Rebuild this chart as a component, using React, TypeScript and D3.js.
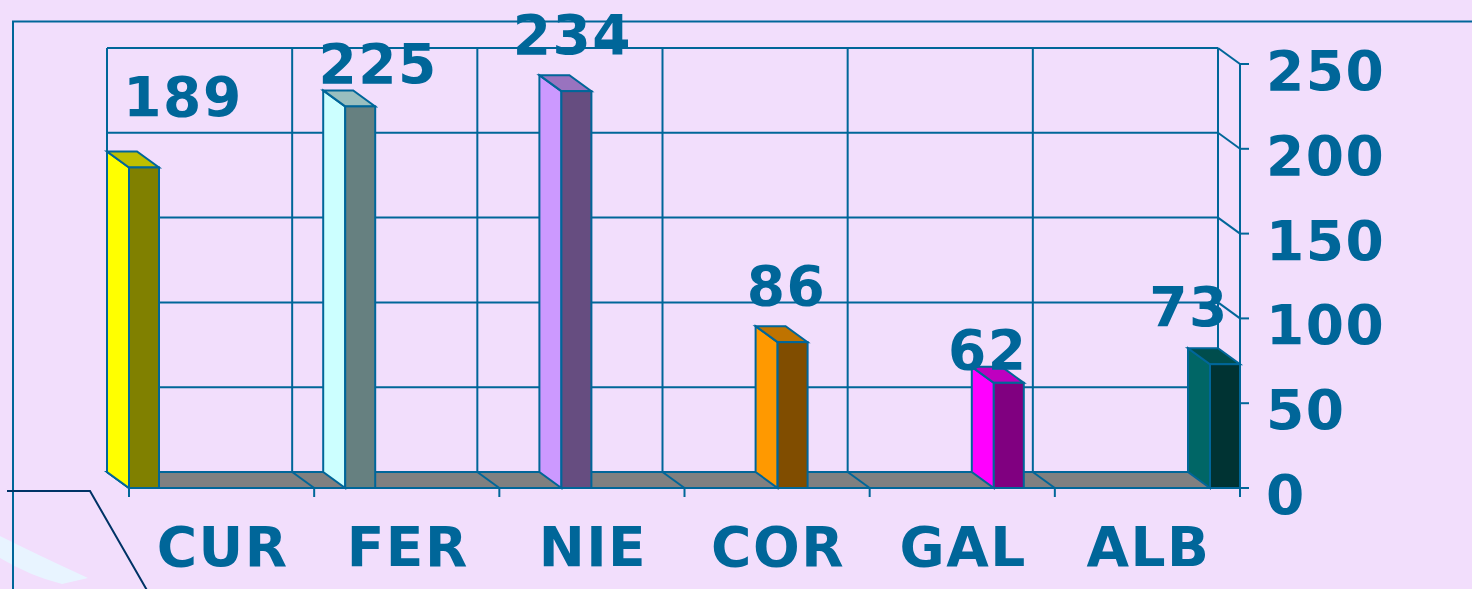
import { useRef, useEffect } from 'react';
import * as d3 from 'd3';

// chart data
const categories = ['CUR', 'FER', 'NIE', 'COR', 'GAL', 'ALB'];
const values = [189, 225, 234, 86, 62, 73];
const yTicks = [0, 50, 100, 150, 200, 250];
const barColors = ['#FFFF00', '#CCFFFF', '#CC99FF', '#FF9900', '#FF00FF', '#006666'];
// value labels were dragged by hand in the original, offsets from the bar top
const labelDx = [38, 17, -5, -7, -22, -37];
const labelDy = [-51, -23, -37, -37, -14, -38];

const W = 1472;
const H = 589;
const ink = '#006699';
const bg = '#F2DEFC';

const shade = (c: string, k: number) => {
    const r = d3.rgb(c);
    return d3.rgb(r.r * k, r.g * k, r.b * k).formatHex();
};

const App = () => {
    const svgRef = useRef<SVGSVGElement>(null);

    useEffect(() => {
        const svg = d3.select(svgRef.current);
        svg.selectAll('*').remove();

        // plot box (front plane) and depth offset
        const left = 129, right = 1240, bottom = 488, top = 64;
        const ddx = -22, ddy = -16;
        const barW = 30;

        const y = d3.scaleLinear().domain([0, 250]).range([bottom, top]);
        const xBand = d3.scaleBand().domain(categories).range([left, right]);
        const xBar = d3.scalePoint().domain(categories).range([left, right - barW]);
        const bounds = [...categories.map(c => xBand(c) as number), right];

        svg.append('rect').attr('width', W).attr('height', H).attr('fill', bg);

        // decorations in the slide
        svg.append('path')
            .attr('d', 'M0,536 Q40,556 88,578 L62,584 Q30,576 0,558 Z')
            .attr('fill', '#E8F4FF');
        svg.append('path')
            .attr('d', 'M13,600 L13,21.5 L1480,21.5')
            .attr('fill', 'none').attr('stroke', ink).attr('stroke-width', 2);
        svg.append('path')
            .attr('d', 'M7,491 L90,491 L148,592')
            .attr('fill', 'none').attr('stroke', '#003366').attr('stroke-width', 2);

        const g = svg.append('g')
            .attr('fill', 'none')
            .attr('stroke', ink)
            .attr('stroke-width', 2);

        // back wall gridlines
        yTicks.forEach(t => {
            const yy = y(t) + ddy;
            g.append('line')
                .attr('x1', left + ddx).attr('x2', right + ddx)
                .attr('y1', yy).attr('y2', yy);
            // side wall connector
            g.append('line')
                .attr('x1', right + ddx).attr('y1', yy)
                .attr('x2', right).attr('y2', y(t));
        });
        bounds.forEach(b => {
            g.append('line')
                .attr('x1', b + ddx).attr('x2', b + ddx)
                .attr('y1', y(250) + ddy).attr('y2', y(0) + ddy);
        });

        // floor
        g.append('path')
            .attr('d', `M${left + ddx},${bottom + ddy} L${right + ddx},${bottom + ddy} L${right},${bottom} L${left},${bottom} Z`)
            .attr('fill', '#808080');
        bounds.forEach(b => {
            g.append('line')
                .attr('x1', b + ddx).attr('y1', bottom + ddy)
                .attr('x2', b).attr('y2', bottom);
            g.append('line')
                .attr('x1', b).attr('x2', b)
                .attr('y1', bottom).attr('y2', bottom + 9);
        });

        // bars
        categories.forEach((c, i) => {
            const x0 = xBar(c) as number;
            const yt = y(values[i]);
            const base = barColors[i];
            g.append('path')
                .attr('d', `M${x0},${bottom} L${x0},${yt} L${x0 + ddx},${yt + ddy} L${x0 + ddx},${bottom + ddy} Z`)
                .attr('fill', base);
            g.append('path')
                .attr('d', `M${x0},${yt} L${x0 + barW},${yt} L${x0 + barW + ddx},${yt + ddy} L${x0 + ddx},${yt + ddy} Z`)
                .attr('fill', shade(base, 0.75));
            g.append('rect')
                .attr('x', x0).attr('y', yt)
                .attr('width', barW).attr('height', bottom - yt)
                .attr('fill', shade(base, 0.5));
        });

        // front axes
        g.append('line')
            .attr('x1', left).attr('x2', right)
            .attr('y1', bottom).attr('y2', bottom);
        g.append('line')
            .attr('x1', right).attr('x2', right)
            .attr('y1', top).attr('y2', bottom + 9);
        yTicks.forEach(t => {
            g.append('line')
                .attr('x1', right).attr('x2', right + 9)
                .attr('y1', y(t)).attr('y2', y(t));
        });

        const txt = svg.append('g')
            .attr('fill', ink)
            .attr('font-family', '"DejaVu Sans", Verdana, sans-serif')
            .attr('font-weight', 'bold')
            .attr('font-size', 55)
            .attr('letter-spacing', 1.5);

        yTicks.forEach(t => {
            txt.append('text')
                .attr('x', right + 26).attr('y', y(t) + 26)
                .text(t);
        });

        categories.forEach(c => {
            txt.append('text')
                .attr('x', (xBand(c) as number) + xBand.bandwidth() / 2 + 1)
                .attr('y', 566)
                .attr('text-anchor', 'middle')
                .text(c);
        });

        categories.forEach((c, i) => {
            txt.append('text')
                .attr('x', (xBar(c) as number) + barW / 2 + labelDx[i] + 1)
                .attr('y', y(values[i]) + labelDy[i])
                .attr('text-anchor', 'middle')
                .text(values[i]);
        });
    }, []);

    return (
        <svg ref={svgRef} width={W} height={H}
            style={{ position: 'absolute', left: 0, top: 0, display: 'block' }} />
    );
};

export default App;
